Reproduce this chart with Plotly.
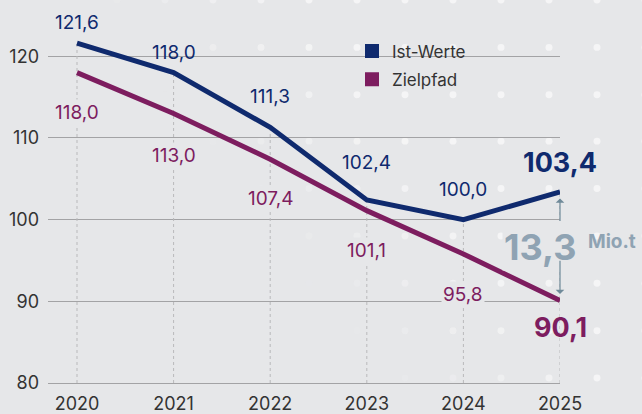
import plotly.graph_objects as go

# ---------------- data ----------------
years = [2020, 2021, 2022, 2023, 2024, 2025]
ist_werte = [121.6, 118.0, 111.3, 102.4, 100.0, 103.4]
zielpfad = [118.0, 113.0, 107.4, 101.1, 95.8, 90.1]
ist_labels = ["121,6", "118,0", "111,3", "102,4", "100,0", "103,4"]
ziel_labels = ["118,0", "113,0", "107,4", "101,1", "95,8", "90,1"]
y_ticks = [80, 90, 100, 110, 120]
gap_label = "13,3"
gap_unit = "Mio.t"
series_names = ["Ist-Werte", "Zielpfad"]

# ---------------- style ----------------
BG = "#e6e7e9"
BLUE = "#0f2a6e"
PURPLE = "#7d1d5f"
GAPCOL = "#8fa3b3"
ARROWCOL = "#6f8a99"
TXT = "#333333"
FONT = "Inter"

W, H = 642, 414
ML, MR, MT, MB = 48, 82, 0, 26
plot_w = W - ML - MR
plot_h = H - MT - MB
y_min = 80
px_per_unit = 8.275
y_max = y_min + plot_h / px_per_unit

fig = go.Figure()

# vertical dotted guides from baseline up to the higher series value
vx, vy = [], []
for i, yr in enumerate(years):
    vx += [yr, yr, None]
    vy += [y_min, max(ist_werte[i], zielpfad[i]), None]
fig.add_trace(go.Scatter(x=vx, y=vy, mode="lines",
                         line=dict(color="#b9b9bb", width=1, dash="dot"),
                         hoverinfo="skip", showlegend=False, cliponaxis=False))

fig.add_trace(go.Scatter(x=years, y=zielpfad, mode="lines",
                         line=dict(color=PURPLE, width=5),
                         showlegend=False, cliponaxis=False))
fig.add_trace(go.Scatter(x=years, y=ist_werte, mode="lines",
                         line=dict(color=BLUE, width=5),
                         showlegend=False, cliponaxis=False))

# legend entries (square markers)
for name, col in zip(series_names, [BLUE, PURPLE]):
    fig.add_trace(go.Scatter(x=[None], y=[None], mode="markers", name=name,
                             legendgroup=name,
                             marker=dict(symbol="square", size=14, color=col)))

annotations = []
ist_shift = [21, 20, 31, 38, 30, 29]
ziel_shift = [-40, -42, -39, -40, -41, -27]
last = len(years) - 1
for i, yr in enumerate(years):
    bold = i == last
    annotations.append(dict(
        x=yr, y=ist_werte[i], yshift=ist_shift[i], xref="x", yref="y",
        text=f"<b>{ist_labels[i]}</b>" if bold else ist_labels[i],
        showarrow=False,
        font=dict(family=FONT, size=27 if bold else 19, color=BLUE)))
    annotations.append(dict(
        x=yr, y=zielpfad[i], yshift=ziel_shift[i], xref="x", yref="y",
        text=f"<b>{ziel_labels[i]}</b>" if bold else ziel_labels[i],
        showarrow=False, bgcolor=BG if not bold else None,
        font=dict(family=FONT, size=27 if bold else 19, color=PURPLE)))

# gap annotation between last values
top_v, bot_v = ist_werte[last], zielpfad[last]
mid_v = (top_v + bot_v) / 2
annotations.append(dict(x=years[last], y=mid_v, xref="x", yref="y",
                        text=f"<b>{gap_label}</b>", showarrow=False,
                        xanchor="right", xshift=18, yshift=-1, bgcolor=BG,
                        font=dict(family=FONT, size=36, color=GAPCOL)))
annotations.append(dict(x=years[last], y=mid_v, xref="x", yref="y", yshift=5,
                        text=f"<b>{gap_unit}</b>", showarrow=False,
                        xanchor="left", xshift=26,
                        font=dict(family=FONT, size=19, color=GAPCOL)))
# arrows
annotations.append(dict(x=years[last], y=top_v - 0.8, ax=years[last], ay=mid_v + 2.9,
                        xref="x", yref="y", axref="x", ayref="y", text="",
                        showarrow=True, arrowhead=1, arrowsize=1.2, arrowwidth=1.2,
                        arrowcolor=ARROWCOL))
annotations.append(dict(x=years[last], y=bot_v + 0.8, ax=years[last], ay=mid_v - 1.6,
                        xref="x", yref="y", axref="x", ayref="y", text="",
                        showarrow=True, arrowhead=1, arrowsize=1.2, arrowwidth=1.2,
                        arrowcolor=ARROWCOL))

# decorative dot pattern in the background
shapes = []
r = 3.5
for cx in range(21, W + 48, 48):
    for cy in [0, 48, 96, 143, 191, 239, 287, 335, 383]:
        a = 0.25 + (cx - 250) / 230 + (150 - cy) / 300
        a = max(0.0, min(1.0, a))
        if a <= 0.02:
            continue
        x0 = (cx - r - ML) / plot_w
        x1 = (cx + r - ML) / plot_w
        y0 = (H - MB - (cy + r)) / plot_h
        y1 = (H - MB - (cy - r)) / plot_h
        shapes.append(dict(type="circle", xref="paper", yref="paper",
                           x0=x0, x1=x1, y0=y0, y1=y1, layer="below",
                           fillcolor="#f5f5f6", line=dict(width=0), opacity=a))

x_left = years[0] - 29 / 96.6

fig.update_layout(
    width=W, height=H,
    margin=dict(l=ML, r=MR, t=MT, b=MB, pad=0),
    paper_bgcolor=BG, plot_bgcolor="rgba(0,0,0,0)",
    font=dict(family=FONT, color=TXT),
    xaxis=dict(range=[x_left, years[-1]], tickvals=years, ticktext=[str(y) for y in years],
               showgrid=False, zeroline=False, showline=True, linecolor="#a3a3a5",
               linewidth=1, ticks="", ticklabelstandoff=4,
               tickfont=dict(family=FONT, size=18, color=TXT), fixedrange=True),
    yaxis=dict(range=[y_min, y_max], tickvals=y_ticks, showgrid=True,
               gridcolor="#a3a3a5", gridwidth=1, zeroline=False, showline=False,
               ticks="", ticklabelstandoff=8,
               tickfont=dict(family=FONT, size=18, color=TXT), fixedrange=True),
    legend=dict(x=(352 - ML) / plot_w, y=1 - 34 / plot_h, xanchor="left", yanchor="top",
                bgcolor="rgba(0,0,0,0)", font=dict(family=FONT, size=17, color=TXT),
                itemwidth=30, tracegroupgap=3),
    annotations=annotations,
    shapes=shapes,
    showlegend=True,
)

fig.write_html("out.html", config={"displayModeBar": False},
               post_script="document.body.style.margin='0';document.body.style.overflow='hidden';")
